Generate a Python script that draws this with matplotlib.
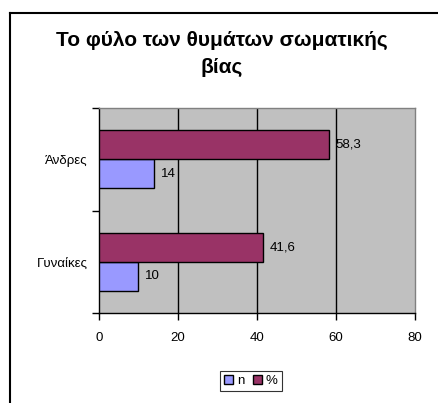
import matplotlib
matplotlib.use("Agg")
import matplotlib.pyplot as plt
from matplotlib.lines import Line2D
from matplotlib.patches import Patch

plt.rcParams['font.family'] = ['Liberation Sans', 'DejaVu Sans']

categories = ["Γυναίκες", "Άνδρες"]
n_values = [10, 14]
pct_values = [41.6, 58.3]
n_labels = ["10", "14"]
pct_labels = ["41,6", "58,3"]
xticks = [0, 20, 40, 60, 80]

W, H = 439, 403
fig = plt.figure(figsize=(W / 100, H / 100), dpi=100)

# outer chart frame (extends past right/bottom edges)
fig.add_artist(Line2D([10 / W, 10 / W], [1 - 13 / H, -0.1], color='black', lw=1.5, transform=fig.transFigure))
fig.add_artist(Line2D([10 / W, 1.1], [1 - 13 / H, 1 - 13 / H], color='black', lw=1.5, transform=fig.transFigure))

ax = fig.add_axes([99 / W, 1 - 313 / H, 316 / W, 205 / H])
ax.set_facecolor('#C0C0C0')

fs = 9.5
bh = 0.283
ypos = list(range(len(categories)))
ax.barh([y - bh / 2 for y in ypos], n_values, height=bh, color='#9999FF', edgecolor='black', lw=1, zorder=3, label='n')
ax.barh([y + bh / 2 for y in ypos], pct_values, height=bh, color='#993366', edgecolor='black', lw=1, zorder=3, label='%')

for y, v, t in zip(ypos, n_values, n_labels):
    ax.text(v + 1.6, y - bh / 2, t, va='center', ha='left', fontsize=fs, zorder=4)
for y, v, t in zip(ypos, pct_values, pct_labels):
    ax.text(v + 1.6, y + bh / 2, t, va='center', ha='left', fontsize=fs, zorder=4)

ax.set_xlim(0, 80)
ax.set_ylim(-0.5, 1.5)
ax.set_xticks(xticks)
ax.set_xticklabels([str(x) for x in xticks], fontsize=fs)
ax.set_yticks([-0.5, 0.5, 1.5])
ax.set_yticklabels([])
ax.set_yticks(ypos, minor=True)
ax.set_yticklabels(categories, minor=True, fontsize=fs)
ax.tick_params(axis='y', which='minor', length=0, pad=8)
ax.tick_params(axis='y', which='major', length=5, width=1, direction='out')
ax.tick_params(axis='x', length=5, width=1, direction='out', pad=8.5)

for x in xticks[1:-1]:
    ax.axvline(x, color='black', lw=1, zorder=1)

ax.spines['left'].set_color('black')
ax.spines['bottom'].set_color('black')
ax.spines['top'].set_color('#808080')
ax.spines['right'].set_color('#808080')
for s in ax.spines.values():
    s.set_linewidth(1)

fig.text(222 / W, 1 - 54 / H, "Το φύλο των θυμάτων σωματικής\nβίας", ha='center', va='center',
         fontsize=15, fontweight='bold', linespacing=1.5)

handles = [Patch(facecolor='#9999FF', edgecolor='black', label='n'),
           Patch(facecolor='#993366', edgecolor='black', label='%')]
leg = fig.legend(handles=handles, loc='center', bbox_to_anchor=(251 / W, 1 - 381 / H), ncol=2,
                 fontsize=fs, frameon=True, fancybox=False, edgecolor='black',
                 handlelength=0.7, handleheight=0.7, handletextpad=0.3, columnspacing=0.6,
                 borderpad=0.3, borderaxespad=0)
leg.get_frame().set_linewidth(0.8)

fig.savefig('out.png', dpi=100, facecolor='white')
